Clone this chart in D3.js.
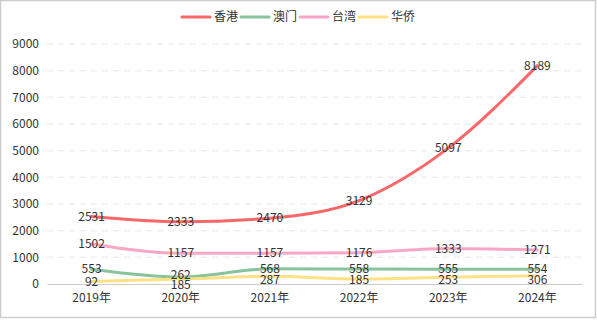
<!DOCTYPE html>
<html><head><meta charset="utf-8">
<script src="https://cdn.jsdelivr.net/npm/d3@7"></script>
<style>body{margin:0;background:#fff}svg{display:block}text{font-family:"Noto Sans CJK SC","Noto Sans",sans-serif}</style>
</head><body><svg id="c" width="597" height="326"></svg>
<script>
const categories = ["2019年","2020年","2021年","2022年","2023年","2024年"];
const seriesNames = ["香港","澳门","台湾","华侨"];
const hongkong = [2531,2333,2470,3129,5097,8189];
const macau = [553,262,568,558,555,554];
const taiwan = [1502,1157,1157,1176,1333,1271];
const overseas = [92,185,287,185,253,306];
const yTicks = [0,1000,2000,3000,4000,5000,6000,7000,8000,9000];
const colors = ["#f96868","#88c39b","#f8a8c6","#fde184"];
const series = [hongkong, macau, taiwan, overseas];

const svg = d3.select("#c");
svg.append("rect").attr("x",0.5).attr("y",0.5).attr("width",595).attr("height",317)
  .attr("fill","#fff").attr("stroke","#cccccc").attr("stroke-width",1.5);

const x = d3.scaleBand().domain(categories).range([47,582]);
const y = d3.scaleLinear().domain([0,9000]).range([284,44]);
const cx = i => x(categories[i]) + x.bandwidth()/2;

// grid
svg.append("g").selectAll("line").data(yTicks.filter(d=>d>0)).join("line")
  .attr("x1",47).attr("x2",582).attr("y1",d=>y(d)).attr("y2",d=>y(d))
  .attr("stroke","#eeeeee").attr("stroke-width",1.5).attr("stroke-dasharray","6,5");

// y axis
const ya = svg.append("g").attr("transform","translate(47,0)")
  .call(d3.axisLeft(y).tickValues(yTicks).tickSize(0).tickPadding(8).tickFormat(d3.format("d")));
ya.select(".domain").remove();
ya.selectAll("text").attr("font-size",12).attr("fill","#333");

// x axis
const xa = svg.append("g").attr("transform","translate(0,284)")
  .call(d3.axisBottom(x).tickSize(0).tickPadding(9));
xa.select(".domain").attr("stroke","#cccccc");
xa.selectAll("text").attr("font-size",12).attr("fill","#333");

const line = d3.line().x((d,i)=>cx(i)).y(d=>y(d)).curve(d3.curveMonotoneX);
series.forEach((s,k)=>{
  svg.append("path").datum(s).attr("d",line).attr("fill","none")
    .attr("stroke",colors[k]).attr("stroke-width",3).attr("stroke-linecap","round").attr("stroke-linejoin","round");
});

// labels with simple vertical overlap shifting per column
const gap = 10.5, maxY = 285;
const labels = [];
categories.forEach((c,i)=>{
  const col = series.map((s,k)=>({v:s[i], x:cx(i), y:y(s[i])})).sort((a,b)=>a.y-b.y);
  for (let j=1;j<col.length;j++) if (col[j].y < col[j-1].y + gap) col[j].y = col[j-1].y + gap;
  if (col[col.length-1].y > maxY) {
    col[col.length-1].y = maxY;
    for (let j=col.length-2;j>=0;j--) if (col[j].y > col[j+1].y - gap) col[j].y = col[j+1].y - gap;
  }
  labels.push(...col);
});
svg.append("g").selectAll("text").data(labels).join("text")
  .attr("x",d=>d.x).attr("y",d=>d.y).attr("dy","0.35em")
  .attr("text-anchor","middle").attr("font-size",12).attr("fill","#333")
  .text(d=>d.v);

// legend
const legendX = [182,241,300,359];
const lg = svg.append("g");
seriesNames.forEach((n,k)=>{
  lg.append("line").attr("x1",legendX[k]).attr("x2",legendX[k]+28).attr("y1",17).attr("y2",17)
    .attr("stroke",colors[k]).attr("stroke-width",3).attr("stroke-linecap","round");
  lg.append("text").attr("x",legendX[k]+32).attr("y",17).attr("dy","0.35em")
    .attr("font-size",12).attr("fill","#333").text(n);
});
</script></body></html>
